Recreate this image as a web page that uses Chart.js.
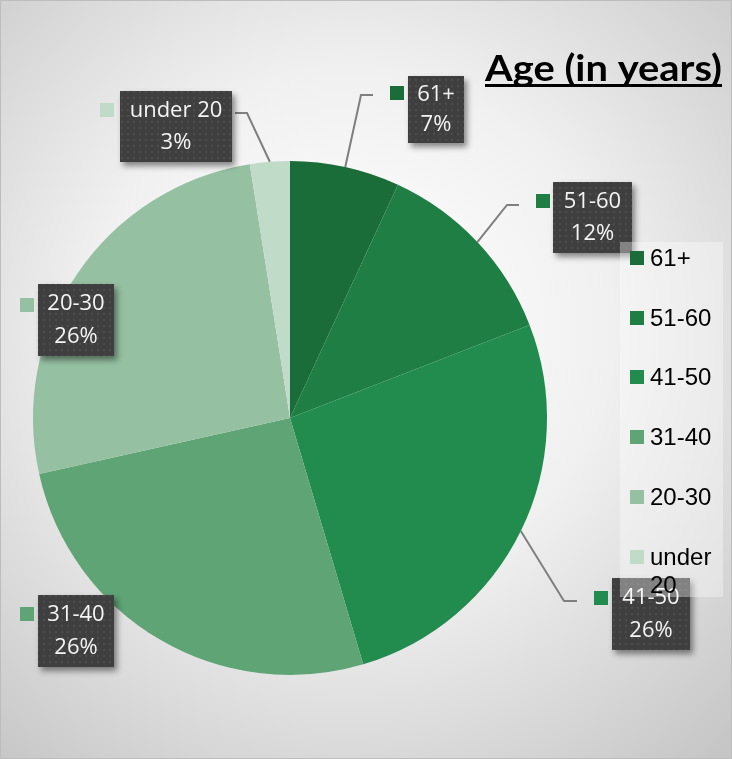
<!DOCTYPE html>
<html>
<head>
<meta charset="utf-8">
<script src="https://cdn.jsdelivr.net/npm/chart.js@4.4.1/dist/chart.umd.min.js"></script>
<style>
  html, body { margin: 0; padding: 0; background: #fff; }
  #wrap { width: 732px; height: 759px; }
</style>
</head>
<body>
<div id="wrap"><canvas id="age-chart" width="732" height="759"></canvas></div>
<script>
// chart data
const categories = ['61+', '51-60', '41-50', '31-40', '20-30', 'under 20'];
const shares = [6.9, 12.2, 26.3, 26.1, 26, 2.5]; // percent
const titleText = 'Age (in years)';

// slice colours
const sliceColors = ['#1a6c39', '#1e7e44', '#218c4d', '#5ea474', '#95c0a2', '#c1dbc9'];

// where Excel put the callout boxes (box, colour square, leader elbow + end)
const callouts = [
    { box: [408, 76, 56, 67], sq: [390, 86], elbow: [361, 95], end: [373, 95] },
    { box: [553, 182, 79, 71], sq: [536, 194], elbow: [507, 205], end: [519, 205] },
    { box: [612, 578, 78, 72], sq: [594, 591], elbow: [564, 601], end: [577, 601] },
    { box: [38, 595, 76, 72], sq: [20, 607], elbow: null, end: null },
    { box: [38, 284, 76, 72], sq: [20, 298], elbow: null, end: null },
    { box: [120, 91, 112, 71], sq: [100, 103], elbow: [247, 113], end: [235, 113] }
];

// dotted dark fill for the callouts
function makeDots() {
    const c = document.createElement('canvas');
    c.width = 6; c.height = 6;
    const g = c.getContext('2d');
    g.fillStyle = '#3f3f3f';
    g.fillRect(0, 0, 6, 6);
    g.fillStyle = '#4d4d4d';
    g.fillRect(1, 1, 2, 2);
    return c;
}

const backgroundPlugin = {
    id: 'bg',
    beforeDraw(chart) {
        const ctx = chart.ctx;
        const w = chart.width, h = chart.height;
        ctx.save();
        const grad = ctx.createRadialGradient(350, 330, 20, 350, 330, 560);
        grad.addColorStop(0, '#ffffff');
        grad.addColorStop(0.45, '#f0f0f0');
        grad.addColorStop(1, '#c6c6c6');
        ctx.fillStyle = grad;
        ctx.fillRect(0, 0, w, h);
        ctx.strokeStyle = '#bdbdbd';
        ctx.lineWidth = 1;
        ctx.strokeRect(0.5, 0.5, w - 1, h - 1);
        ctx.restore();
    }
};

const calloutPlugin = {
    id: 'callouts',
    afterDatasetsDraw(chart) {
        const ctx = chart.ctx;
        const arcs = chart.getDatasetMeta(0).data;
        const pattern = ctx.createPattern(makeDots(), 'repeat');
        const total = shares.reduce((a, b) => a + b, 0);
        ctx.save();

        // leader lines
        ctx.strokeStyle = '#7f7f7f';
        ctx.lineWidth = 2;
        arcs.forEach((arc, i) => {
            const c = callouts[i];
            if (!c.elbow) return;
            const mid = (arc.startAngle + arc.endAngle) / 2;
            const sx = arc.x + Math.cos(mid) * arc.outerRadius;
            const sy = arc.y + Math.sin(mid) * arc.outerRadius;
            ctx.beginPath();
            ctx.moveTo(sx, sy);
            ctx.lineTo(c.elbow[0], c.elbow[1]);
            ctx.lineTo(c.end[0], c.end[1]);
            ctx.stroke();
        });

        arcs.forEach((arc, i) => {
            const c = callouts[i];
            const [bx, by, bw, bh] = c.box;
            // box with shadow
            ctx.save();
            ctx.shadowColor = 'rgba(0,0,0,0.45)';
            ctx.shadowBlur = 6;
            ctx.shadowOffsetX = 3;
            ctx.shadowOffsetY = 4;
            ctx.fillStyle = '#3f3f3f';
            ctx.fillRect(bx, by, bw, bh);
            ctx.restore();
            ctx.fillStyle = pattern;
            ctx.fillRect(bx, by, bw, bh);

            // colour square
            ctx.fillStyle = sliceColors[i];
            ctx.fillRect(c.sq[0], c.sq[1], 14, 14);

            // text
            ctx.fillStyle = '#f4f4f4';
            ctx.font = '22px "Open Sans"';
            ctx.textAlign = 'center';
            ctx.textBaseline = 'middle';
            const pct = Math.round(shares[i] / total * 100) + '%';
            ctx.fillText(categories[i], bx + bw / 2, by + bh * 0.28);
            ctx.fillText(pct, bx + bw / 2, by + bh * 0.73);
        });
        ctx.restore();
    },
    afterDraw(chart) {
        const ctx = chart.ctx;
        ctx.save();

        // legend (drawn on top, semi transparent like the original)
        ctx.fillStyle = 'rgba(255,255,255,0.35)';
        ctx.fillRect(620, 242, 103, 355);
        const rowY = [258, 318, 377, 437, 497, 557];
        ctx.font = '24px "Liberation Sans"';
        ctx.textAlign = 'left';
        ctx.textBaseline = 'middle';
        categories.forEach((cat, i) => {
            ctx.fillStyle = sliceColors[i];
            ctx.fillRect(630, rowY[i] - 7, 14, 14);
            ctx.fillStyle = '#000';
            const words = cat.split(' ');
            words.forEach((wd, k) => ctx.fillText(wd, 650, rowY[i] + 1 + k * 28));
        });

        // title, bold + underlined, right aligned
        ctx.font = 'bold 36px Lato';
        ctx.fillStyle = '#000';
        ctx.textBaseline = 'alphabetic';
        ctx.textAlign = 'left';
        const tw = ctx.measureText(titleText).width;
        const target = 237;
        ctx.save();
        ctx.translate(485, 81);
        ctx.scale(target / tw, 1);
        ctx.fillText(titleText, 0, 0);
        ctx.restore();
        ctx.fillRect(485, 84, target, 3);

        ctx.restore();
    }
};

const ctx = document.getElementById('age-chart').getContext('2d');
const ageChart = new Chart(ctx, {
    type: 'pie',
    data: {
        labels: categories,
        datasets: [{
            label: titleText,
            data: shares,
            backgroundColor: sliceColors,
            borderWidth: 0
        }]
    },
    options: {
        responsive: false,
        animation: false,
        devicePixelRatio: 1,
        layout: {
            padding: { left: 33, top: 161, right: 185, bottom: 84 }
        },
        plugins: {
            legend: { display: false },
            title: { display: false },
            tooltip: { enabled: false }
        }
    },
    plugins: [backgroundPlugin, calloutPlugin]
});
</script>
</body>
</html>
